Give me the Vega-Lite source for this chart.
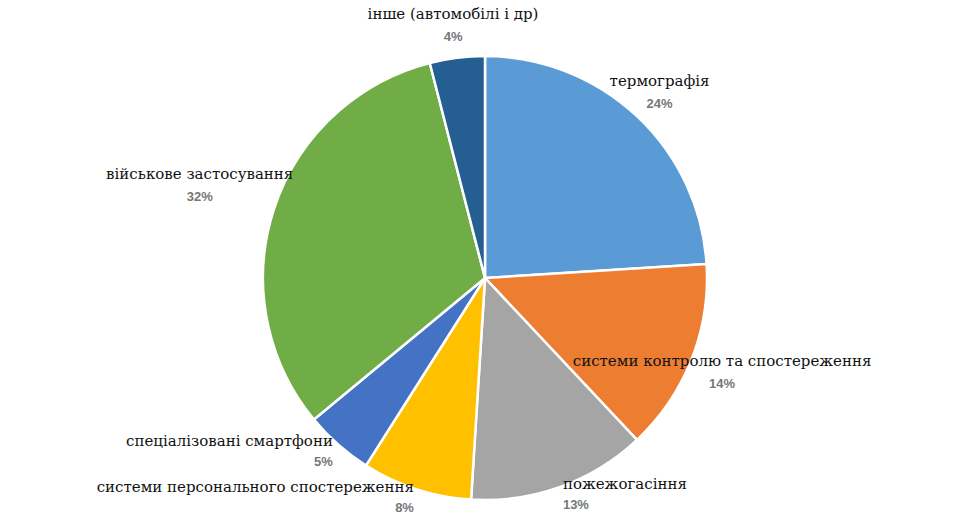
{
  "$schema": "https://vega.github.io/schema/vega-lite/v6.json",
  "autosize": {"type": "none"},
  "width": 944,
  "height": 486,
  "padding": {"left": 13, "top": 35, "right": 0, "bottom": 0},
  "background": "white",
  "config": {"view": {"stroke": null}},
  "data": {
    "values": [
      {"idx": 0, "name": "термографія", "share": 0.24},
      {"idx": 1, "name": "системи контролю та спостереження", "share": 0.14},
      {"idx": 2, "name": "пожежогасіння", "share": 0.13},
      {"idx": 3, "name": "системи персонального спостереження", "share": 0.08},
      {"idx": 4, "name": "спеціалізовані смартфони", "share": 0.05},
      {"idx": 5, "name": "військове застосування", "share": 0.32},
      {"idx": 6, "name": "інше (автомобілі і др)", "share": 0.04}
    ]
  },
  "encoding": {
    "theta": {"field": "share", "type": "quantitative", "stack": true},
    "order": {"field": "idx", "type": "quantitative"},
    "detail": {"field": "name", "type": "nominal"}
  },
  "layer": [
    {
      "mark": {"type": "arc", "outerRadius": 222, "stroke": "white", "strokeWidth": 2.5},
      "encoding": {
        "color": {
          "field": "name",
          "type": "nominal",
          "legend": null,
          "scale": {
            "domain": ["термографія", "системи контролю та спостереження", "пожежогасіння", "системи персонального спостереження", "спеціалізовані смартфони", "військове застосування", "інше (автомобілі і др)"],
            "range": ["#5B9BD5", "#ED7D31", "#A5A5A5", "#FFC000", "#4472C4", "#70AD47", "#255E91"]
          }
        }
      }
    },
    {
      "mark": {"type": "text", "radius": 255, "dy": -11, "align": "center", "baseline": "middle", "font": "DejaVu Serif", "fontSize": 15, "color": "#111"},
      "encoding": {"text": {"condition": {"test": "datum.idx == 0 || datum.idx == 1 || datum.idx == 6", "field": "name"}, "value": ""}}
    },
    {
      "mark": {"type": "text", "radius": 255, "dy": 12, "align": "center", "baseline": "middle", "font": "Liberation Sans", "fontSize": 13, "fontWeight": "bold", "color": "#777777"},
      "encoding": {"text": {"condition": {"test": "datum.idx == 0 || datum.idx == 1 || datum.idx == 6", "field": "share", "format": ".0%"}, "value": ""}}
    },
    {
      "mark": {"type": "text", "radius": 300, "dy": -11, "align": "center", "baseline": "middle", "font": "DejaVu Serif", "fontSize": 15, "color": "#111"},
      "encoding": {"text": {"condition": {"test": "datum.idx == 5", "field": "name"}, "value": ""}}
    },
    {
      "mark": {"type": "text", "radius": 300, "dy": 12, "align": "center", "baseline": "middle", "font": "Liberation Sans", "fontSize": 13, "fontWeight": "bold", "color": "#777777"},
      "encoding": {"text": {"condition": {"test": "datum.idx == 5", "field": "share", "format": ".0%"}, "value": ""}}
    },
    {
      "mark": {"type": "text", "radius": 230, "dy": -10, "align": "right", "baseline": "middle", "font": "DejaVu Serif", "fontSize": 15, "color": "#111"},
      "encoding": {"text": {"condition": {"test": "datum.idx == 3 || datum.idx == 4", "field": "name"}, "value": ""}}
    },
    {
      "mark": {"type": "text", "radius": 230, "dy": 11, "align": "right", "baseline": "middle", "font": "Liberation Sans", "fontSize": 13, "fontWeight": "bold", "color": "#777777"},
      "encoding": {"text": {"condition": {"test": "datum.idx == 3 || datum.idx == 4", "field": "share", "format": ".0%"}, "value": ""}}
    },
    {
      "mark": {"type": "text", "radius": 230, "dy": -10, "align": "left", "baseline": "middle", "font": "DejaVu Serif", "fontSize": 15, "color": "#111"},
      "encoding": {"text": {"condition": {"test": "datum.idx == 2", "field": "name"}, "value": ""}}
    },
    {
      "mark": {"type": "text", "radius": 230, "dy": 11, "align": "left", "baseline": "middle", "font": "Liberation Sans", "fontSize": 13, "fontWeight": "bold", "color": "#777777"},
      "encoding": {"text": {"condition": {"test": "datum.idx == 2", "field": "share", "format": ".0%"}, "value": ""}}
    }
  ]
}
